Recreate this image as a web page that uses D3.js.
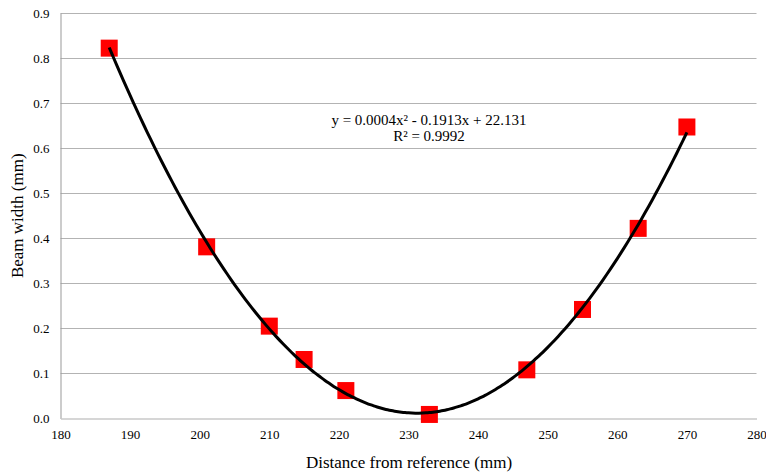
<!DOCTYPE html>
<html>
<head>
<meta charset="utf-8">
<script src="https://cdn.jsdelivr.net/npm/d3@7"></script>
<style>
  body { margin: 0; background: #fff; }
  text { font-family: "Liberation Serif", "Times New Roman", serif; fill: #000; }
</style>
</head>
<body>
<svg class="chart"></svg>
<script>
// Measured beam widths
var distances = [187, 201, 210, 215, 221, 233, 247, 255, 263, 270];
var beamWidths = [0.822, 0.381, 0.205, 0.131, 0.062, 0.009, 0.108, 0.242, 0.422, 0.647];

var xTicks = [180, 190, 200, 210, 220, 230, 240, 250, 260, 270, 280];
var yTicks = [0, 0.1, 0.2, 0.3, 0.4, 0.5, 0.6, 0.7, 0.8, 0.9];

var equationLines = ["y = 0.0004x\u00B2 - 0.1913x + 22.131", "R\u00B2 = 0.9992"];

// Canvas size and plot area
var imageWidth = 766;
var imageHeight = 475;
var plotLeft = 60.5, plotRight = 756.5, plotTop = 13, plotBottom = 418.5;

var canvas = d3.select(".chart")
    .attr("width", imageWidth)
    .attr("height", imageHeight);

var xScale = d3.scaleLinear().domain([180, 280]).range([plotLeft, plotRight]);
var yScale = d3.scaleLinear().domain([0, 0.9]).range([plotBottom, plotTop]);

// Horizontal gridlines
canvas.append("g")
    .selectAll("line")
    .data(yTicks.slice(1))
    .enter().append("line")
    .attr("x1", plotLeft)
    .attr("x2", plotRight)
    .attr("y1", function(d) { return Math.round(yScale(d)) + 0.5; })
    .attr("y2", function(d) { return Math.round(yScale(d)) + 0.5; })
    .attr("stroke", "#b3b3b3")
    .attr("stroke-width", 1);

// Y axis
var yAxis = d3.axisLeft(yScale)
    .tickValues(yTicks)
    .tickSize(0)
    .tickPadding(11)
    .tickFormat(d3.format(".1f"));

var yG = canvas.append("g")
    .attr("transform", "translate(" + plotLeft + ",0)")
    .call(yAxis);
yG.attr("font-size", null).attr("font-family", null);
yG.select(".domain").attr("stroke", "#999");
yG.selectAll("text").style("font-size", "13px");

// X axis
var xAxis = d3.axisBottom(xScale)
    .tickValues(xTicks)
    .tickSize(0)
    .tickPadding(11);

var xG = canvas.append("g")
    .attr("transform", "translate(0," + plotBottom + ")")
    .call(xAxis);
xG.attr("font-size", null).attr("font-family", null);
xG.select(".domain").attr("stroke", "#c8c8c8").attr("stroke-width", 1.5);
xG.selectAll("text").style("font-size", "13px");

// Least squares quadratic fit of the points (trendline)
function quadFit(xs, ys) {
    var n = xs.length, sx = 0, sx2 = 0, sx3 = 0, sx4 = 0, sy = 0, sxy = 0, sx2y = 0;
    var mx = d3.mean(xs);
    for (var i = 0; i < n; i++) {
        var x = xs[i] - mx, y = ys[i];
        sx += x; sx2 += x * x; sx3 += x * x * x; sx4 += x * x * x * x;
        sy += y; sxy += x * y; sx2y += x * x * y;
    }
    // Solve 3x3 system with Cramer's rule
    var m = [[n, sx, sx2], [sx, sx2, sx3], [sx2, sx3, sx4]];
    var v = [sy, sxy, sx2y];
    function det(a) {
        return a[0][0] * (a[1][1] * a[2][2] - a[1][2] * a[2][1])
             - a[0][1] * (a[1][0] * a[2][2] - a[1][2] * a[2][0])
             + a[0][2] * (a[1][0] * a[2][1] - a[1][1] * a[2][0]);
    }
    var D = det(m);
    var coef = [0, 1, 2].map(function(k) {
        var a = m.map(function(row, r) { return row.map(function(c, j) { return j == k ? v[r] : c; }); });
        return det(a) / D;
    });
    return function(x) { var t = x - mx; return coef[0] + coef[1] * t + coef[2] * t * t; };
}

var fit = quadFit(distances, beamWidths);
var curveX = d3.range(distances[0], distances[distances.length - 1] + 0.01, 0.5);

var line = d3.line()
    .x(function(d) { return xScale(d); })
    .y(function(d) { return yScale(fit(d)); })
    .curve(d3.curveBasis);

// Markers
var size = 17;
canvas.append("g")
    .selectAll("rect")
    .data(distances)
    .enter().append("rect")
    .attr("x", function(d) { return xScale(d) - size / 2; })
    .attr("y", function(d, i) { return yScale(beamWidths[i]) - size / 2; })
    .attr("width", size)
    .attr("height", size)
    .attr("fill", "#ff0000");

// Trendline over the markers
canvas.append("path")
    .datum(curveX)
    .attr("d", line)
    .attr("fill", "none")
    .attr("stroke", "#000")
    .attr("stroke-width", 3);

// Equation label
canvas.append("g")
    .selectAll("text")
    .data(equationLines)
    .enter().append("text")
    .attr("x", 429)
    .attr("y", function(d, i) { return 125 + i * 16; })
    .attr("text-anchor", "middle")
    .style("font-size", "15px")
    .text(function(d) { return d; });

// Axis titles
canvas.append("text")
    .attr("x", 409)
    .attr("y", 468)
    .attr("text-anchor", "middle")
    .style("font-size", "17px")
    .text("Distance from reference (mm)");

canvas.append("text")
    .attr("transform", "translate(23," + (plotTop + plotBottom) / 2 + ") rotate(-90)")
    .attr("text-anchor", "middle")
    .style("font-size", "17px")
    .text("Beam width (mm)");
</script>
</body>
</html>
